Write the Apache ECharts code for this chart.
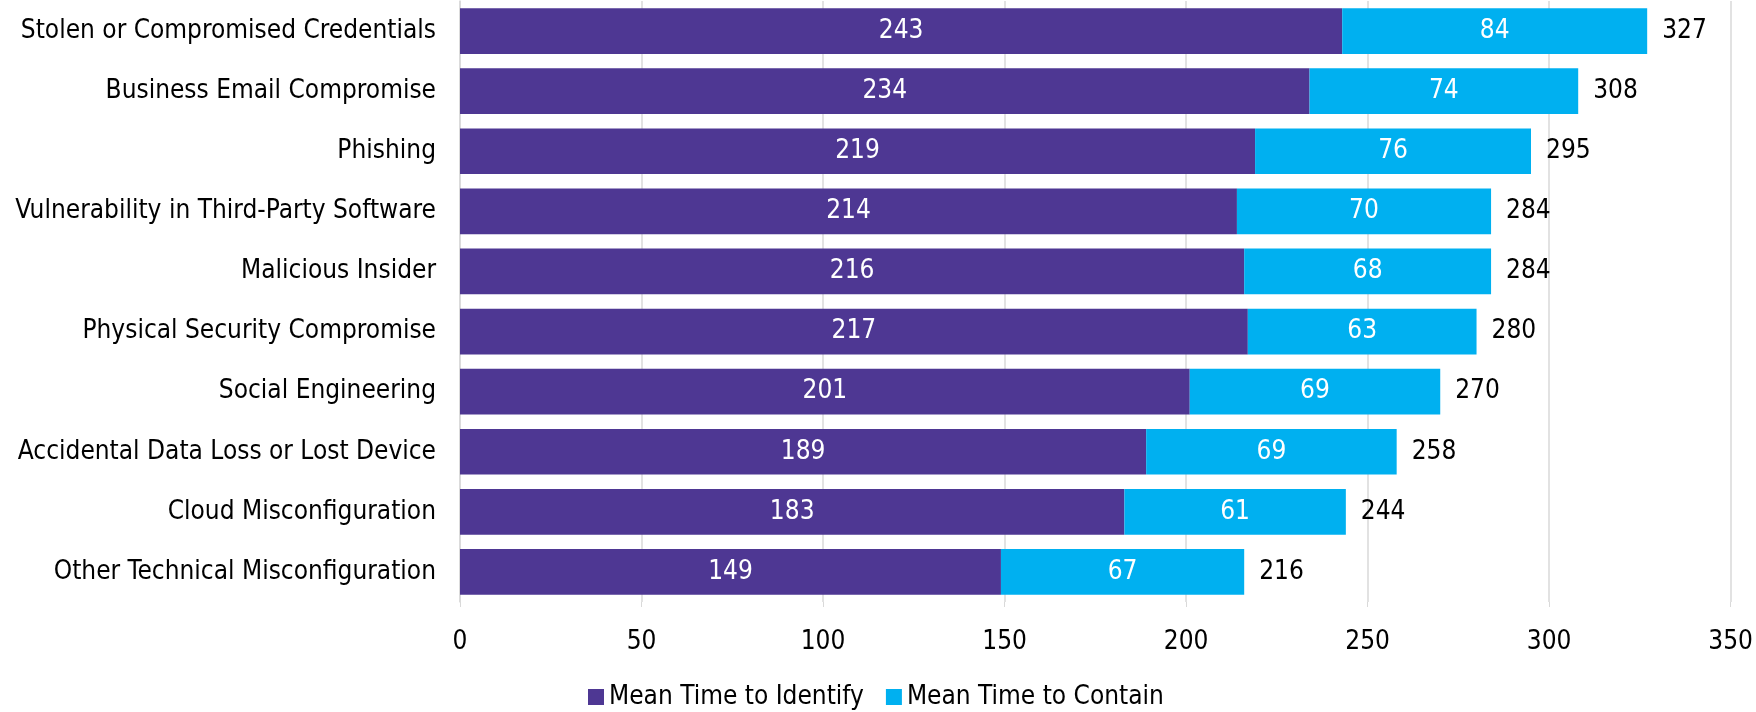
<!DOCTYPE html>
<html><head><meta charset="utf-8">
<script src="https://cdn.jsdelivr.net/npm/echarts@6/dist/echarts.min.js"></script>
<style>html,body{margin:0;padding:0;background:#fff}#c{width:1756px;height:712px}</style>
</head><body><div id="c"></div>
<script>
const categories = ["Stolen or Compromised Credentials","Business Email Compromise","Phishing","Vulnerability in Third-Party Software","Malicious Insider","Physical Security Compromise","Social Engineering","Accidental Data Loss or Lost Device","Cloud Misconfiguration","Other Technical Misconfiguration"];
const identify = [243,234,219,214,216,217,201,189,183,149];
const contain = [84,74,76,70,68,63,69,69,61,67];
const totals = identify.map((v,i)=>v+contain[i]);
const seriesNames = ["Mean Time to Identify","Mean Time to Contain"];
const FONT = "DejaVu Sans Condensed";
const FS = 26;
const chart = echarts.init(document.getElementById('c'));
chart.setOption({
  animation:false,
  textStyle:{fontFamily:FONT},
  grid:{left:460,right:22,top:1,bottom:110,containLabel:false},
  legend:{left:583,top:679,itemWidth:16,itemHeight:16,itemGap:22,icon:'rect',
    textStyle:{fontFamily:FONT,fontSize:FS,color:'#000'},data:seriesNames},
  xAxis:{type:'value',min:0,max:350,interval:50,
    axisLine:{show:false},
    axisTick:{show:true,length:5,lineStyle:{color:'#d9d9d9'}},
    splitLine:{lineStyle:{color:'#d9d9d9',width:1.5}},
    axisLabel:{fontFamily:FONT,fontSize:FS,color:'#000',margin:27}},
  yAxis:{type:'category',data:categories,inverse:true,
    axisLine:{show:true,lineStyle:{color:'#d9d9d9',width:1.5}},
    axisTick:{show:false},
    axisLabel:{fontFamily:FONT,fontSize:FS,color:'#000',margin:24}},
  series:[
    {name:seriesNames[0],type:'bar',stack:'t',data:identify,barWidth:'76%',
     itemStyle:{color:'#4e3793'},
     label:{show:true,position:'inside',color:'#fff',fontFamily:FONT,fontSize:FS}},
    {name:seriesNames[1],type:'bar',stack:'t',data:contain,barWidth:'76%',
     itemStyle:{color:'#00b0f0'},
     label:{show:true,position:'inside',color:'#fff',fontFamily:FONT,fontSize:FS}},
    {name:'Total',type:'bar',stack:'t',data:totals.map(()=>0),barWidth:'76%',
     itemStyle:{color:'transparent'},
     label:{show:true,position:'right',distance:15,color:'#000',fontFamily:FONT,fontSize:FS,
       formatter:p=>totals[p.dataIndex]}}
  ]
});
</script></body></html>
